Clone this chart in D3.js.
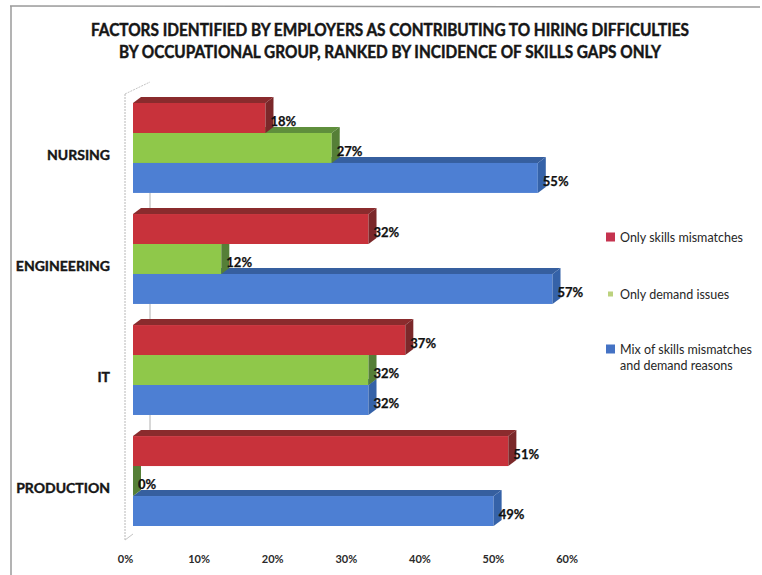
<!DOCTYPE html>
<html>
<head>
<meta charset="utf-8">
<script src="https://cdn.jsdelivr.net/npm/d3@7/dist/d3.min.js"></script>
<style>
  html, body { margin: 0; padding: 0; background: #fff; }
  svg { display: block; }
</style>
</head>
<body>
<script>
// Occupational groups and the three factor series (percent of employers)
const categories = ["NURSING", "ENGINEERING", "IT", "PRODUCTION"];
const seriesNames = ["Only skills mismatches", "Only demand issues", "Mix of skills mismatches and demand reasons"];
const skillsOnly = [18, 32, 37, 51];
const demandOnly = [27, 12, 32, 0];
const mixedReasons = [55, 57, 32, 49];
const tickValues = [0, 10, 20, 30, 40, 50, 60];
const titleLines = [
  "FACTORS IDENTIFIED BY EMPLOYERS AS CONTRIBUTING TO HIRING DIFFICULTIES",
  "BY OCCUPATIONAL GROUP, RANKED BY INCIDENCE OF SKILLS GAPS ONLY"
];

const W = 762, H = 575;
const svg = d3.select("body").append("svg").attr("width", W).attr("height", H);

// face colours per series: front, top, side
const palette = [
  { front: "#c8323b", top: "#8a2b2d", side: "#7b282a", legend: "#c5334f" },
  { front: "#8fc84a", top: "#5f8f3c", side: "#557f37", legend: "#bcd27e" },
  { front: "#4d7fd3", top: "#365f9f", side: "#3562a8", legend: "#4472c4" }
];
const seriesValues = [skillsOnly, demandOnly, mixedReasons];
const font = "Lato, 'Open Sans', sans-serif";

// frame
svg.append("line").attr("x1", 10).attr("y1", 6).attr("x2", 760).attr("y2", 7)
  .attr("stroke", "#9a9a9a").attr("stroke-width", 1.5);
svg.append("line").attr("x1", 11).attr("y1", 6).attr("x2", 11).attr("y2", 575)
  .attr("stroke", "#9a9a9a").attr("stroke-width", 1.5);

// title
svg.append("g").selectAll("text").data(titleLines).join("text")
  .attr("x", 390).attr("y", (d, i) => 36 + i * 22)
  .attr("text-anchor", "middle")
  .attr("font-family", font)
  .attr("font-weight", 700)
  .attr("font-size", 16.5)
  .attr("fill", "#161616")
  .attr("stroke", "#161616").attr("stroke-width", 0.45)
  .attr("textLength", (d, i) => i === 0 ? 598 : 542)
  .attr("lengthAdjust", "spacingAndGlyphs")
  .text(d => d);

// scales
const x = d3.scaleLinear().domain([0, 60]).range([133, 133 + 60 * 7.36]);
const y = d3.scaleBand().domain(categories).range([103, 526]).paddingInner(0.19);
const ys = d3.scaleBand().domain(d3.range(seriesNames.length)).range([0, y.bandwidth()]);

// 3D depth offset
const dx = 8, dy = 6;

// back wall line and axis ticks
svg.append("line").attr("x1", 125).attr("y1", 94).attr("x2", 125).attr("y2", 540)
  .attr("stroke", "#b8b8b8").attr("stroke-width", 1).attr("stroke-dasharray", "2,1");
svg.append("line").attr("x1", 125).attr("y1", 94).attr("x2", 150).attr("y2", 82)
  .attr("stroke", "#c4c4c4").attr("stroke-width", 1).attr("stroke-dasharray", "2,1");
svg.append("line").attr("x1", 125).attr("y1", 540).attr("x2", 133).attr("y2", 534)
  .attr("stroke", "#c4c4c4").attr("stroke-width", 1);
categories.slice(1).forEach(c => {
  svg.append("line").attr("x1", 150).attr("x2", 150)
    .attr("y1", y(c) - 22).attr("y2", y(c) - 6)
    .attr("stroke", "#b0b0b0").attr("stroke-width", 1);
});

// bars: drawn bottom series first so upper bars cover the top faces below
const bars = svg.append("g");
categories.forEach((cat, ci) => {
  for (let si = seriesNames.length - 1; si >= 0; si--) {
    const v = seriesValues[si][ci];
    const y0 = y(cat) + ys(si), y1 = y0 + ys.bandwidth();
    const x0 = x(0), x1 = x(v);
    const c = palette[si];
    const g = bars.append("g");
    g.append("polygon")
      .attr("points", [[x0, y0], [x0 + dx, y0 - dy], [x1 + dx, y0 - dy], [x1, y0]].join(" "))
      .attr("fill", c.top);
    g.append("rect").attr("x", x0).attr("y", y0).attr("width", x1 - x0).attr("height", y1 - y0)
      .attr("fill", c.front);
    g.append("polygon")
      .attr("points", [[x1, y0], [x1 + dx, y0 - dy], [x1 + dx, y1 - dy], [x1, y1]].join(" "))
      .attr("fill", c.side);
  }
});

// value labels
const labels = svg.append("g")
  .attr("font-family", font)
  .attr("font-weight", 700).attr("font-size", 13).attr("fill", "#111")
  .attr("stroke", "#111").attr("stroke-width", 0.25);
categories.forEach((cat, ci) => {
  seriesValues.forEach((vals, si) => {
    const v = vals[ci];
    const yc = y(cat) + ys(si) + ys.bandwidth() / 2;
    labels.append("text").attr("x", x(v) + 5).attr("y", yc + 8).text(v + "%");
  });
});

// category labels
svg.append("g").selectAll("text").data(categories).join("text")
  .attr("x", 110).attr("y", d => y(d) + y.bandwidth() / 2 + 12)
  .attr("text-anchor", "end")
  .attr("font-family", font)
  .attr("font-weight", 700).attr("font-size", 14).attr("fill", "#161616")
  .attr("stroke", "#161616").attr("stroke-width", 0.4)
  .text(d => d);

// value axis
const xAxis = d3.axisBottom(x).tickValues(tickValues).tickFormat(d => d + "%").tickSize(0).tickPadding(4);
const ax = svg.append("g").attr("transform", "translate(-8,551)").call(xAxis);
ax.select(".domain").remove();
ax.selectAll("text")
  .attr("font-family", font)
  .attr("font-weight", 700).attr("font-size", 11).attr("fill", "#2a2a2a");

// legend
const legendY = [238, 295, 350];
const legend = svg.append("g")
  .attr("font-family", font)
  .attr("font-size", 12.5).attr("fill", "#262626");
seriesNames.forEach((name, i) => {
  const size = i === 1 ? 5 : 9;
  legend.append("rect")
    .attr("x", i === 1 ? 608 : 606).attr("y", legendY[i] - size / 2 - 1)
    .attr("width", size).attr("height", size).attr("fill", palette[i].legend);
  const lines = i === 2 ? ["Mix of skills mismatches", "and demand reasons"] : [name];
  lines.forEach((ln, li) => {
    legend.append("text").attr("x", 620).attr("y", legendY[i] + 4 + li * 16).text(ln);
  });
});
</script>
</body>
</html>
